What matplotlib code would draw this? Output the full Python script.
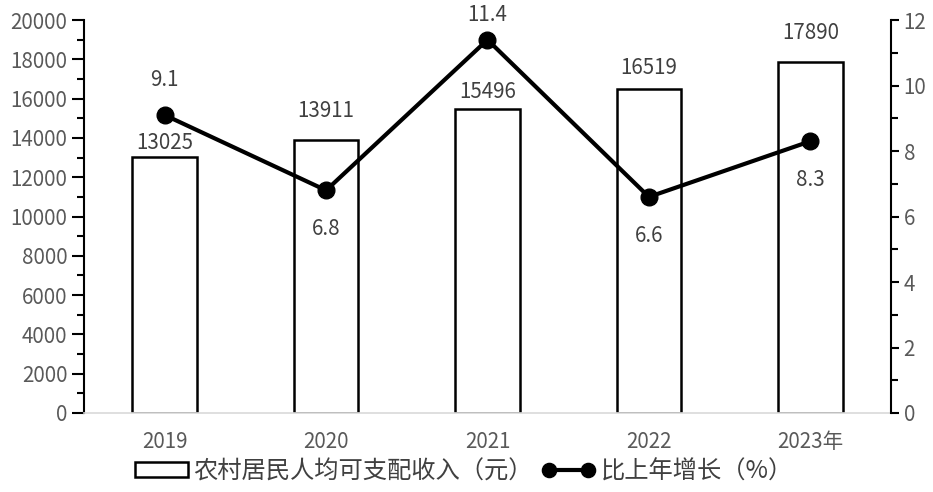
import matplotlib
matplotlib.use("Agg")
import matplotlib.pyplot as plt
from matplotlib.ticker import MultipleLocator

plt.rcParams['font.family'] = ['Noto Sans CJK SC', 'DejaVu Sans']

years = ["2019", "2020", "2021", "2022", "2023年"]
income = [13025, 13911, 15496, 16519, 17890]
growth = [9.1, 6.8, 11.4, 6.6, 8.3]

bar_label = "农村居民人均可支配收入（元）"
line_label = "比上年增长（%）"

# label placement (style): offsets in points
income_label_offsets = [2, 13, 4, 6.5, 13]
growth_label_offsets = [17, -20, 10, -20, -20]

gray = "#595959"
fs = 14.8

fig = plt.figure(figsize=(9.33, 4.92), dpi=100)
ax = fig.add_axes([0.090, 0.1606, 0.865, 0.7985])
x = list(range(len(years)))
bars = ax.bar(x, income, width=0.4, color="white", edgecolor="black", linewidth=1.8,
              label=bar_label, zorder=2)
ax.set_xlim(-0.5, len(years) - 0.5)
ax.set_ylim(0, 20000)
ax.yaxis.set_major_locator(MultipleLocator(2000))
ax.yaxis.set_minor_locator(MultipleLocator(1000))
ax.set_xticks(x)
ax.set_xticklabels(years)
ax.tick_params(axis='x', length=0, pad=13, labelsize=fs, labelcolor=gray)
ax.tick_params(axis='y', which='major', length=9, width=1.5, labelsize=fs, labelcolor=gray, pad=3)
ax.tick_params(axis='y', which='minor', length=5, width=1.5)
for s in ["top", "right"]:
    ax.spines[s].set_visible(False)
ax.spines["left"].set_linewidth(1.5)
ax.spines["bottom"].set_color("#d9d9d9")
ax.spines["bottom"].set_linewidth(1.2)

for xi, v, off in zip(x, income, income_label_offsets):
    ax.annotate(str(v), (xi, v), xytext=(0, off), textcoords="offset points",
                ha="center", va="bottom", fontsize=fs, color="#404040")

ax2 = ax.twinx()
ax2.set_ylim(0, 12)
ax2.yaxis.set_major_locator(MultipleLocator(2))
ax2.yaxis.set_minor_locator(MultipleLocator(1))
line, = ax2.plot(x, growth, color="black", linewidth=3, marker="o", markersize=12,
                 label=line_label, zorder=3)
ax2.tick_params(axis='y', which='major', length=6, width=1.5, labelsize=fs, labelcolor=gray, pad=3)
ax2.tick_params(axis='y', which='minor', length=5, width=1.5)
for s in ["top", "left", "bottom"]:
    ax2.spines[s].set_visible(False)
ax2.spines["right"].set_linewidth(1.5)

for xi, v, off in zip(x, growth, growth_label_offsets):
    ax2.annotate(f"{v}", (xi, v), xytext=(0, off), textcoords="offset points",
                 ha="center", va="bottom" if off > 0 else "top", fontsize=fs, color="#404040")

fig.legend([bars, line], [bar_label, line_label], loc="center", bbox_to_anchor=(0.497, 0.042),
           ncol=2, frameon=False, fontsize=17.5, handlelength=2.2, handleheight=0.55,
           handletextpad=0.2, columnspacing=0.4, labelcolor="#404040", numpoints=2,
           markerscale=0.85)

fig.savefig("out.png", dpi=100)
